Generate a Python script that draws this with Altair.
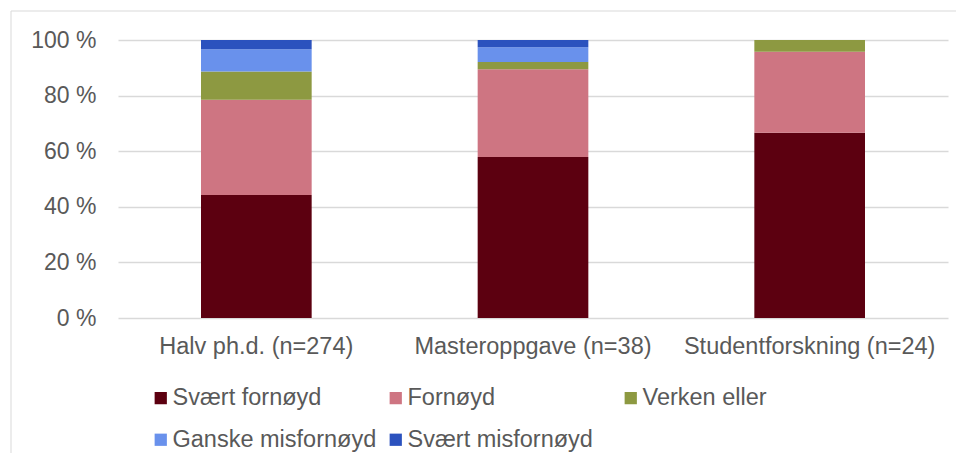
import altair as alt
import pandas as pd

categories = ["Halv ph.d. (n=274)", "Masteroppgave (n=38)", "Studentforskning (n=24)"]
levels = ["Svært fornøyd", "Fornøyd", "Verken eller", "Ganske misfornøyd", "Svært misfornøyd"]
colors = ["#5c0010", "#ce7582", "#8d9941", "#6991ec", "#2b52be"]
halv = [44.2, 34.3, 10.2, 8.0, 3.3]
master = [57.9, 31.6, 2.6, 5.3, 2.6]
student = [66.7, 29.2, 4.2, 0.0, 0.0]
tick_values = [0, 0.2, 0.4, 0.6, 0.8, 1.0]

rows = []
for cat, vals in zip(categories, [halv, master, student]):
    for i, (lvl, v) in enumerate(zip(levels, vals)):
        rows.append({"kategori": cat, "svar": lvl, "idx": i, "andel": v})
df = pd.DataFrame(rows)

W, H = 830, 278
FONT = "Liberation Sans"
GREY = "#595959"
FS = 23

bars = alt.Chart(df).mark_bar().encode(
    x=alt.X("kategori:N", sort=categories, title=None,
            scale=alt.Scale(paddingInner=0.6, paddingOuter=0.3),
            axis=alt.Axis(labelAngle=0, ticks=False, domain=False, labelFontSize=23.5,
                          labelColor=GREY, labelFont=FONT, labelPadding=16, grid=False,
                          labelLimit=400)),
    y=alt.Y("andel:Q", stack="normalize", title=None,
            scale=alt.Scale(domain=[0, 1]),
            axis=alt.Axis(values=tick_values, labelExpr="format(datum.value*100, 'd') + ' %'",
                          ticks=False, domain=False, labelFontSize=FS, labelColor=GREY,
                          labelFont=FONT, labelPadding=22, grid=True, gridColor="#d9d9d9",
                          gridWidth=1.5)),
    color=alt.Color("svar:N", sort=levels, scale=alt.Scale(domain=levels, range=colors),
                    legend=alt.Legend(orient="none", legendX=31, legendY=346, columns=3,
                                      direction="horizontal",
                                      title=None, symbolType="square", symbolSize=150,
                                      symbolStrokeWidth=0, labelFontSize=23.5, labelFont=FONT,
                                      labelColor=GREY, columnPadding=7, rowPadding=17,
                                      labelOffset=0, gridAlign="all", labelLimit=400)),
    order=alt.Order("idx:Q", sort="ascending"),
)

frame_data = alt.Data(values=[{"k": 0}])
frame_top = alt.Chart(frame_data).mark_rule(color="#d9d9d9", strokeWidth=1).encode(
    x=alt.value(-107), x2=alt.value(W + 200), y=alt.value(-29))
frame_left = alt.Chart(frame_data).mark_rule(color="#d9d9d9", strokeWidth=1).encode(
    x=alt.value(-107), y=alt.value(-29), y2=alt.value(H + 200))

chart = alt.layer(frame_top, frame_left, bars).properties(
    width=W, height=H,
    padding={"left": 110, "top": 32, "right": 8, "bottom": 135},
    autosize=alt.AutoSizeParams(type="none"),
).configure_view(stroke=None)

chart.save("out.html", embed_options={"renderer": "svg", "actions": False})
